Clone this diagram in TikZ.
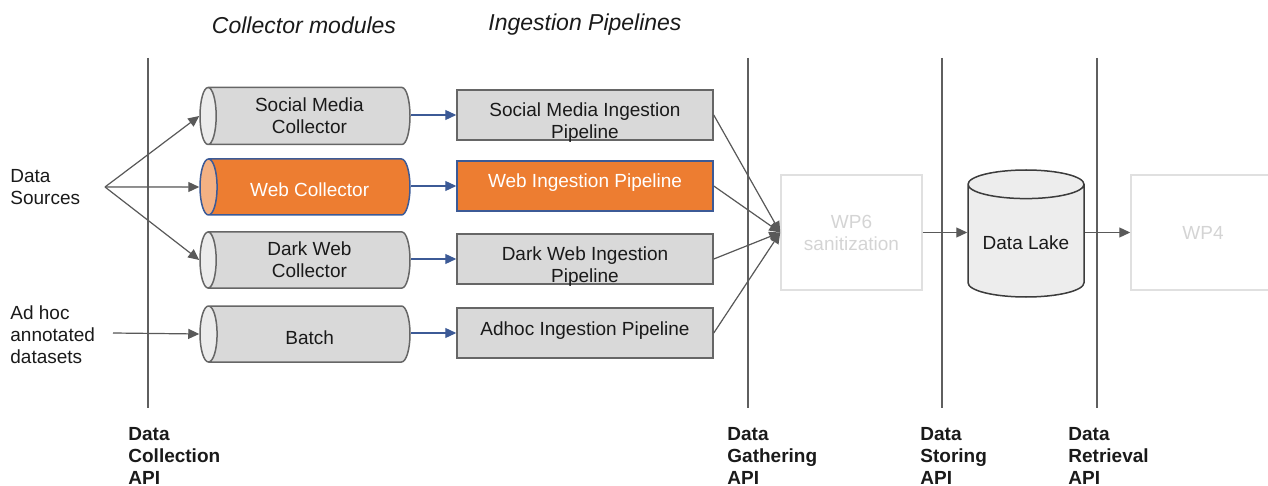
\documentclass[tikz,border=0pt]{standalone}
\usepackage{fontspec}
\setmainfont{Liberation Sans}
\usepackage{tikz}
\usetikzlibrary{arrows.meta,shapes.geometric}
\definecolor{ink}{HTML}{1A1A1A}
\definecolor{cBody}{HTML}{D9D9D9}
\definecolor{cCap}{HTML}{EBEBEB}
\definecolor{cEdge}{HTML}{666666}
\definecolor{cOrange}{HTML}{ED7D31}
\definecolor{cOrangeLt}{HTML}{F4B183}
\definecolor{cBlue}{HTML}{3C5A96}
\definecolor{cArrow}{HTML}{595959}
\definecolor{cBar}{HTML}{5F5F5F}
\definecolor{cGhost}{HTML}{E0E0E0}
\definecolor{cGhostTxt}{HTML}{D4D4D4}
\definecolor{cLake}{HTML}{EDEDED}
\newcommand{\lblfont}{\fontsize{9.5}{11}\selectfont}
\newcommand{\hdrfont}{\fontsize{11.5}{14}\selectfont}
\tikzset{
  col/.style     = {cylinder, shape border rotate=180, shape aspect=0.45, draw=cEdge, line width=0.75pt,
                    cylinder uses custom fill, cylinder body fill=cBody, cylinder end fill=cCap,
                    minimum height=105pt, minimum width=28pt, inner sep=0pt, align=center,
                    anchor=shape center, font=\lblfont, text=ink},
  colhot/.style  = {col, draw=cBlue, cylinder body fill=cOrange, cylinder end fill=cOrangeLt, text=white},
  oneln/.style   = {text height=14.5pt, text depth=4.5pt},
  pipe/.style    = {rectangle, draw=cEdge, fill=cBody, line width=0.75pt, minimum width=128pt,
                    minimum height=25pt, inner sep=0pt, align=center, font=\lblfont, text=ink},
  pipehot/.style = {pipe, draw=cBlue, fill=cOrange, text=white},
  lower/.style   = {text height=24.5pt, text depth=0.5pt},
  upper/.style   = {text height=7pt, text depth=5pt},
  ghost/.style   = {rectangle, draw=cGhost, line width=0.75pt, minimum height=57.5pt, inner sep=0pt,
                    align=center, font=\lblfont, text=cGhostTxt},
  lake/.style    = {cylinder, shape border rotate=90, shape aspect=0.33, draw=ink!85, line width=0.75pt,
                    cylinder uses custom fill, cylinder body fill=cLake, cylinder end fill=cLake,
                    minimum width=58pt, minimum height=63.5pt, inner sep=0pt, align=center,
                    anchor=shape center, font=\lblfont, text=ink, text height=10.5pt, text depth=2pt},
  src/.style     = {anchor=west, align=left, inner sep=0pt, font=\lblfont, text=ink},
  api/.style     = {anchor=north west, align=left, inner sep=0pt, font=\lblfont\bfseries, text=ink},
  hdr/.style     = {font=\hdrfont\itshape, text=ink},
  bar/.style     = {draw=cBar, line width=1.3pt},
  ar/.style      = {-{Triangle[length=5.5pt,width=5pt]}, line width=0.6pt, draw=cArrow, fill=cArrow},
  blu/.style     = {ar, draw=cBlue, fill=cBlue},
}
\begin{document}
\begin{tikzpicture}[x=0.5pt, y=-0.5pt]
  \useasboundingbox (0,0) rectangle (1268,486);

  % column headers
  \node[hdr] (hcol) at (304,25) {Collector modules};
  \node[hdr] (hpip) at (585,25) {Ingestion Pipelines};

  % API borders
  \draw[bar] (148,58) -- (148,408);
  \draw[bar] (748,58) -- (748,408);
  \draw[bar] (942,58) -- (942,408);
  \draw[bar] (1097,58) -- (1097,408);

  % sources
  \node[src] (ds) at (10,187) {Data\\Sources};
  \node[src] (ah) at (10,335) {Ad hoc\\annotated\\datasets};
  \coordinate (dsp) at (105,187);
  \coordinate (ahp) at (113,333);

  % collectors
  \node[col, minimum width=28.5pt] (csm) at (305,116) {Social Media\\Collector};
  \node[colhot, oneln] (cweb) at (305,187) {Web Collector};
  \node[col] (cdark) at (305,260) {Dark Web\\Collector};
  \node[col, oneln] (cbat) at (305,334) {Batch};
  \draw[ar] (dsp) -- (csm.west);
  \draw[ar] (dsp) -- (cweb.west);
  \draw[ar] (dsp) -- (cdark.west);
  \draw[ar] (ahp) -- (cbat.west);

  % ingestion pipelines
  \node[pipe, lower] (psm) at (585,115) {Social Media Ingestion\\Pipeline};
  \node[pipehot, upper] (pweb) at (585,186) {Web Ingestion Pipeline};
  \node[pipe, lower] (pdark) at (585,259) {Dark Web Ingestion\\Pipeline};
  \node[pipe, upper] (pad) at (585,333) {Adhoc Ingestion Pipeline};
  \draw[blu] (csm.east |- psm) -- (psm);
  \draw[blu] (cweb.east |- pweb) -- (pweb);
  \draw[blu] (cdark.east |- pdark) -- (pdark);
  \draw[blu] (cbat.east |- pad) -- (pad);

  % gathering, storing, retrieval
  \node[ghost, minimum width=70.5pt] (wp6) at (851.5,232.5) {WP6\\sanitization};
  \node[lake] (dl) at (1026,233.5) {Data Lake};
  \node[ghost, minimum width=72pt] (wp4) at (1203,232.5) {WP4};
  \foreach \p in {psm,pweb,pdark,pad}
    \draw[ar] (\p.east) -- (wp6.west);
  \draw[ar] (wp6.east) -- (wp6.east -| dl.west);
  \draw[ar] (dl.east |- wp4.west) -- (wp4.west);

  % API names
  \node[api] (apic) at (128,427) {Data\\Collection\\API};
  \node[api] (apig) at (727,427) {Data\\Gathering\\API};
  \node[api] (apis) at (920,427) {Data\\Storing\\API};
  \node[api] (apir) at (1068,427) {Data\\Retrieval\\API};
\end{tikzpicture}
\end{document}
